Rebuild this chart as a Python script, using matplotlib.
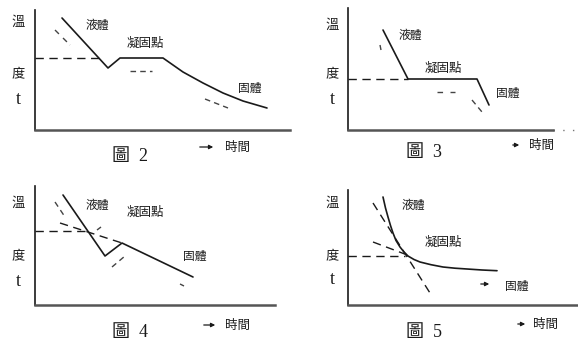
import matplotlib
matplotlib.use("Agg")
import matplotlib.pyplot as plt

W, H = 578, 347
CJK = ['Noto Sans CJK TC', 'DejaVu Sans']
SERIF = ['Liberation Serif', 'Noto Sans CJK TC']
INK = '#1a1a1a'

# ---- data (time, temperature) per figure ----
# Fig 2
f2_t = [27, 73, 85, 128, 138, 148, 168, 188, 208, 232]
f2_T = [112, 62, 72, 72, 65, 58, 47, 37, 29, 22]
f2_freeze = 72
f2_freeze_end = 65
f2_marks = [([20, 24], [100, 96]), ([28, 35], [92, 85]), ([95, 117], [59, 59]), ([170, 193], [31, 22])]

# Fig 3
f3_t = [35, 60, 129, 141]
f3_T = [100, 51, 51, 25]
f3_freeze = 51
f3_freeze_end = 60
f3_marks = [([32, 33], [85, 80]), ([89, 96], [38, 38]), ([102, 107], [38, 38]), ([124, 134], [30, 18])]

# Fig 4
f4_t = [28, 70, 87, 158]
f4_T = [110, 49, 62, 28]
f4_freeze = 74
f4_freeze_end = 53
f4_ext_t = [25, 87]
f4_ext_T = [82, 62]
f4_marks = [([20, 30], [103, 88]), ([77, 90], [38, 49]), ([145, 149], [21, 19]), ([62, 66], [75, 78])]

# Fig 5
f5_t = [35, 37.5, 40, 42.5, 45, 48, 52, 56, 60, 66, 72, 83, 95, 107, 119, 134, 149]
f5_T = [108, 97, 88, 79.5, 72, 64.5, 58, 53, 49, 45.5, 43, 40.3, 38, 36.8, 36, 35, 34.3]
f5_freeze = 49
f5_freeze_end = 57
f5_steep_t = [25, 82]
f5_steep_T = [102, 12]
f5_shallow_t = [25, 62]
f5_shallow_T = [63, 49]

panels = [
    # origin px (x0, y0), width, height
    dict(x0=35, y0=130, w=255, h=120),
    dict(x0=348, y0=130, w=205, h=122),
    dict(x0=35, y0=305, w=240, h=119),
    dict(x0=348, y0=305, w=230, h=115),
]

fig = plt.figure(figsize=(W / 100, H / 100), dpi=100)
fig.patch.set_facecolor('white')


def make_ax(p):
    ax = fig.add_axes([p['x0'] / W, 1 - p['y0'] / H, p['w'] / W, p['h'] / H])
    ax.set_xlim(0, p['w'])
    ax.set_ylim(0, p['h'])
    ax.set_facecolor('none')
    for s in ['top', 'right']:
        ax.spines[s].set_visible(False)
    ax.spines['left'].set_color(INK)
    ax.spines['left'].set_linewidth(1.2)
    ax.spines['bottom'].set_color('#555555')
    ax.spines['bottom'].set_linewidth(1.8)
    ax.set_xticks([])
    ax.set_yticks([])
    return ax


axes = [make_ax(p) for p in panels]
solid = dict(color=INK, lw=1.2, solid_capstyle='round', solid_joinstyle='round')
dashed = dict(color=INK, lw=1.0, ls=(0, (6, 4)))
mark = dict(color='#444444', lw=1.0, ls=(0, (4, 3)))

# Fig 2
a = axes[0]
a.plot(f2_t, f2_T, **solid)
a.plot([0, f2_freeze_end], [f2_freeze, f2_freeze], **dashed)
for mt, mT in f2_marks:
    a.plot(mt, mT, **mark)

# Fig 3
a = axes[1]
a.plot(f3_t, f3_T, **solid)
a.plot([0, f3_freeze_end], [f3_freeze, f3_freeze], **dashed)
for mt, mT in f3_marks:
    a.plot(mt, mT, **mark)
a.plot([205, 230], [0, 0], color='#777777', lw=1.0, ls=(0, (1, 6)), clip_on=False)

# Fig 4
a = axes[2]
a.plot(f4_t, f4_T, **solid)
a.plot([0, f4_freeze_end], [f4_freeze, f4_freeze], **dashed)
a.plot(f4_ext_t, f4_ext_T, **dashed)
for mt, mT in f4_marks:
    a.plot(mt, mT, **mark)

# Fig 5
a = axes[3]
a.plot(f5_t, f5_T, **solid)
a.plot([0, f5_freeze_end], [f5_freeze, f5_freeze], **dashed)
a.plot(f5_steep_t, f5_steep_T, **dashed)
a.plot(f5_shallow_t, f5_shallow_T, **dashed)


def ftext(x, y, s, size=9, family=CJK, **kw):
    fig.text(x / W, 1 - y / H, s, fontsize=size, family=family,
             ha='center', va='center', color=INK, **kw)


def farrow(x1, x2, y):
    fig.add_artist(matplotlib.patches.FancyArrowPatch(
        (x1 / W, 1 - y / H), (x2 / W, 1 - y / H), transform=fig.transFigure,
        arrowstyle='-|>', mutation_scale=6, color=INK, lw=0.9))


labels = [
    dict(yx=18, wy=22, dy=75, ty=100, liq=(97, 25), frz=(145, 43), sol=(250, 88),
         fig=(130, 156), num='2', arr=(197, 216, 147), tm=(237, 147)),
    dict(yx=332, wy=25, dy=75, ty=100, liq=(410, 35), frz=(443, 68), sol=(508, 93),
         fig=(424, 152), num='3', arr=(510, 522, 145), tm=(541, 145)),
    dict(yx=18, wy=203, dy=257, ty=282, liq=(97, 205), frz=(145, 212), sol=(195, 256),
         fig=(130, 333), num='4', arr=(201, 218, 325), tm=(238, 325)),
    dict(yx=332, wy=203, dy=257, ty=280, liq=(413, 205), frz=(443, 242), sol=(517, 286),
         fig=(424, 333), num='5', arr=(515, 528, 324), tm=(545, 324)),
]

for L in labels:
    ftext(L['yx'], L['wy'], '溫', size=9.5)
    ftext(L['yx'], L['dy'], '度', size=9.5)
    ftext(L['yx'], L['ty'], 't', size=13, family=SERIF)
    ftext(*L['liq'], '液體', size=8.5)
    ftext(*L['frz'], '凝固點', size=9)
    ftext(*L['sol'], '固體', size=8.5)
    ftext(*L['fig'], '圖  ' + L['num'], size=13, family=SERIF)
    x1, x2, y = L['arr']
    farrow(x1, x2, y)
    ftext(*L['tm'], '時間', size=9)

farrow(478, 492, 284)

fig.savefig('out.png', dpi=100, facecolor='white')
